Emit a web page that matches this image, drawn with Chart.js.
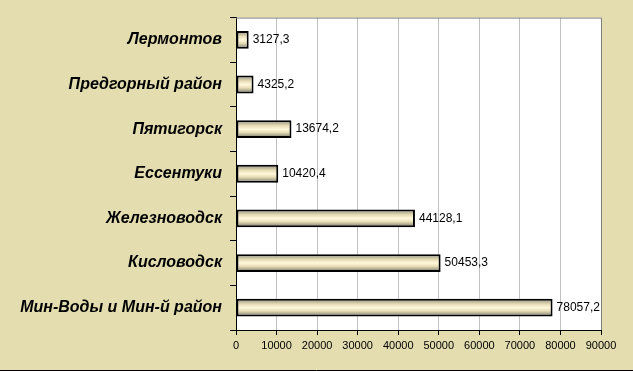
<!DOCTYPE html>
<html>
<head>
<meta charset="utf-8">
<script src="https://cdn.jsdelivr.net/npm/chart.js@4"></script>
<style>
  html, body { margin: 0; padding: 0; background: #e3ddb0; }
  #wrap { width: 633px; height: 371px; position: relative; }
</style>
</head>
<body>
<div id="wrap"><canvas id="chart"></canvas></div>
<script>
// Data
const districts = ['Лермонтов', 'Предгорный район', 'Пятигорск', 'Ессентуки', 'Железноводск', 'Кисловодск', 'Мин-Воды и Мин-й район'];
const amounts = [3127.3, 4325.2, 13674.2, 10420.4, 44128.1, 50453.3, 78057.2];
const xTicks = [0, 10000, 20000, 30000, 40000, 50000, 60000, 70000, 80000, 90000];

const fmt = v => v.toFixed(1).replace('.', ',');

// Cylinder-like shading across each bar
function barFill(context) {
    const chart = context.chart;
    const yScale = chart.scales.y;
    if (!chart.chartArea || !yScale) return '#efe7c2';
    const c = yScale.getPixelForValue(context.dataIndex);
    const half = (chart.chartArea.bottom - chart.chartArea.top) / districts.length * 0.4 / 2;
    const g = chart.ctx.createLinearGradient(0, c - half, 0, c + half);
    g.addColorStop(0, '#8c8a78');
    g.addColorStop(0.15, '#b8b398');
    g.addColorStop(0.3, '#e6dcb4');
    g.addColorStop(0.5, '#fff8dc');
    g.addColorStop(0.68, '#e8deb6');
    g.addColorStop(0.85, '#a8a48c');
    g.addColorStop(1, '#727060');
    return g;
}

const backdrop = {
    id: 'backdrop',
    beforeDraw(chart) {
        const { ctx, chartArea: a, width, height } = chart;
        ctx.save();
        ctx.fillStyle = '#e3ddb0';
        ctx.fillRect(0, 0, width, height);
        ctx.fillStyle = '#ffffff';
        ctx.fillRect(a.left, a.top, a.right - a.left, a.bottom - a.top);
        ctx.restore();
    },
    afterDraw(chart) {
        const { ctx, chartArea: a, width, height } = chart;
        ctx.save();
        ctx.strokeStyle = '#808080';
        ctx.lineWidth = 1;
        ctx.beginPath();
        ctx.moveTo(a.left, a.top + 0.5);
        ctx.lineTo(a.right + 0.5, a.top + 0.5);
        ctx.lineTo(a.right + 0.5, a.bottom);
        ctx.stroke();
        ctx.strokeStyle = '#000000';
        ctx.beginPath();
        ctx.moveTo(0, height - 0.5);
        ctx.lineTo(width, height - 0.5);
        ctx.stroke();
        ctx.restore();
    }
};

const valueLabels = {
    id: 'valueLabels',
    afterDatasetsDraw(chart) {
        const ctx = chart.ctx;
        const meta = chart.getDatasetMeta(0);
        ctx.save();
        ctx.font = '12px "Liberation Sans", Arial, sans-serif';
        ctx.fillStyle = '#000';
        ctx.textAlign = 'left';
        ctx.textBaseline = 'middle';
        meta.data.forEach((bar, i) => {
            ctx.fillText(fmt(amounts[i]), bar.x + 4, bar.y);
        });
        ctx.restore();
    }
};

new Chart(document.getElementById('chart'), {
    type: 'bar',
    data: {
        labels: districts,
        datasets: [{
            data: amounts,
            backgroundColor: barFill,
            borderColor: '#000000',
            borderWidth: 2,
            borderSkipped: false,
            barPercentage: 0.4,
            categoryPercentage: 1
        }]
    },
    options: {
        indexAxis: 'y',
        responsive: true,
        maintainAspectRatio: false,
        animation: false,
        layout: { padding: { top: 15, right: 32 } },
        plugins: {
            legend: { display: false },
            tooltip: { enabled: false }
        },
        scales: {
            x: {
                min: 0,
                max: 90000,
                afterFit: s => { s.height = 41; },
                afterBuildTicks: s => { s.ticks = xTicks.map(v => ({ value: v })); },
                grid: {
                    color: '#c0c0c0',
                    tickColor: '#000000',
                    tickLength: 5
                },
                border: { color: '#000000' },
                ticks: {
                    color: '#000',
                    padding: 4,
                    maxRotation: 0,
                    font: { family: '"Liberation Sans", Arial, sans-serif', size: 11 },
                    callback: v => String(v)
                }
            },
            y: {
                afterFit: s => { s.width = 236; },
                grid: {
                    offset: true,
                    drawOnChartArea: false,
                    tickColor: '#000000',
                    tickLength: 6
                },
                border: { color: '#000000' },
                ticks: {
                    color: '#000',
                    padding: 8,
                    font: { family: '"Liberation Sans", Arial, sans-serif', size: 16, weight: 'bold', style: 'italic' }
                }
            }
        }
    },
    plugins: [backdrop, valueLabels]
});
</script>
</body>
</html>
